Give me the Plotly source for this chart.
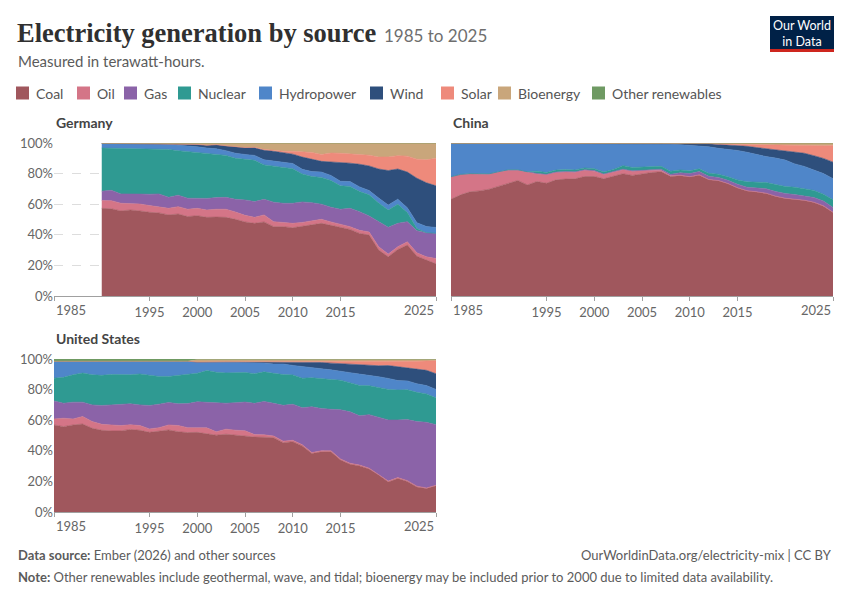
import plotly.graph_objects as go

# ---------------- DATA (shares of electricity generation, %) ----------------
sources = ["Coal", "Oil", "Gas", "Nuclear", "Hydropower", "Wind", "Solar", "Bioenergy", "Other renewables"]
colors = ["#a0575d", "#d47587", "#8b63a8", "#2f9a92", "#4f86c9", "#2e4f7c", "#ee8a7b", "#c9a67b", "#6f9a63"]
tick_years = [1985, 1995, 2000, 2005, 2010, 2015, 2025]
y_ticks = [0, 20, 40, 60, 80, 100]
y_labels = ["0%", "20%", "40%", "60%", "80%", "100%"]

germany_years = list(range(1990, 2026))
germany_coal = [57.3, 57.0, 55.6, 56.2, 55.6, 54.7, 54.3, 53.0, 53.6, 51.9, 52.5, 51.4, 51.6, 51.4, 50.1, 48.4, 47.5, 48.4,
                45.3, 45.3, 44.6, 45.7, 46.6, 47.5, 46.2, 44.9, 43.5, 40.9, 39.8, 30.0, 25.6, 30.4, 33.3, 26.0, 23.4, 21.0]
germany_oil = [5.1, 5.3, 5.0, 4.3, 4.5, 4.4, 4.0, 4.3, 4.8, 4.8, 4.8, 4.8, 5.1, 5.3, 4.8, 4.3, 3.9, 4.6,
               3.3, 2.6, 2.9, 2.4, 2.4, 2.6, 2.2, 2.1, 1.8, 2.0, 2.0, 2.2, 1.8, 1.8, 2.1, 2.2, 2.2, 3.5]
germany_gas = [6.1, 6.8, 6.1, 6.3, 6.5, 7.4, 8.4, 7.2, 7.5, 7.2, 6.6, 7.6, 7.6, 7.8, 8.3, 10.1, 10.3, 10.2,
               12.7, 12.7, 13.1, 13.4, 12.0, 9.9, 9.6, 9.7, 12.0, 12.2, 10.5, 16.2, 17.5, 15.3, 13.2, 14.5, 15.8, 16.5]
germany_nuclear = [28.2, 27.5, 29.5, 29.3, 29.4, 29.4, 29.3, 31.3, 29.1, 30.5, 29.8, 29.0, 28.0, 27.4, 26.8, 26.6, 27.0, 22.5,
                   23.6, 23.1, 22.6, 18.3, 17.1, 17.5, 17.5, 15.3, 14.3, 13.2, 13.8, 12.4, 11.3, 12.5, 6.0, 1.4, 0.0, 0.0]
germany_hydro = [3.1, 3.1, 3.4, 3.5, 3.5, 3.6, 3.2, 3.4, 3.5, 3.8, 3.8, 3.9, 3.9, 3.1, 3.3, 3.1, 3.2, 3.3,
                 3.3, 3.3, 3.4, 3.0, 3.2, 3.5, 3.3, 3.0, 3.2, 3.0, 2.8, 3.2, 3.2, 3.3, 3.0, 3.8, 4.0, 3.8]
germany_wind = [0.0, 0.05, 0.1, 0.1, 0.2, 0.3, 0.4, 0.5, 0.8, 1.0, 1.6, 1.8, 2.7, 3.1, 4.1, 4.4, 5.0, 6.3,
                6.4, 6.5, 6.1, 8.0, 8.2, 7.0, 8.8, 12.3, 12.0, 14.8, 16.1, 19.0, 22.6, 19.7, 23.4, 29.1, 28.6, 27.2]
germany_solar = [0.0, 0.0, 0.0, 0.0, 0.0, 0.0, 0.0, 0.0, 0.0, 0.0, 0.0, 0.0, 0.0, 0.1, 0.1, 0.2, 0.3, 0.5,
                 0.7, 1.1, 1.9, 3.2, 4.3, 4.5, 5.8, 6.0, 6.0, 6.1, 7.0, 7.8, 8.9, 8.7, 10.4, 12.4, 15.0, 18.0]
germany_bio = [0.2, 0.25, 0.3, 0.3, 0.3, 0.2, 0.4, 0.3, 0.7, 0.8, 0.9, 1.5, 1.1, 1.8, 2.5, 2.9, 2.8, 4.2,
               4.7, 5.4, 5.4, 6.0, 6.2, 7.5, 6.6, 6.7, 7.2, 7.8, 8.0, 9.2, 9.1, 8.3, 8.6, 10.6, 11.0, 10.0]
germany_other = [0.0] * 36

china_years = list(range(1985, 2026))
china_coal = [63.2, 66.1, 68.1, 68.7, 69.8, 71.6, 73.7, 75.5, 72.6, 74.8, 73.7, 75.9, 76.4, 76.6, 78.1, 78.1, 76.6,
              78.1, 79.9, 78.8, 79.9, 80.7, 81.2, 78.1, 78.6, 77.7, 79.0, 75.9, 75.3, 73.3, 70.8, 68.9, 68.3, 67.2,
              65.4, 63.9, 62.8, 62.4, 61.1, 58.8, 54.5]
china_oil = [14.5, 13.1, 11.6, 11.0, 9.8, 9.4, 8.5, 6.7, 8.3, 5.0, 5.5, 4.8, 4.6, 4.3, 4.1, 3.5, 2.8,
             2.8, 2.6, 2.7, 1.9, 1.5, 0.8, 0.5, 0.4, 0.3, 0.2, 0.2, 0.2, 0.2, 0.2, 0.2, 0.2, 0.2,
             0.2, 0.2, 0.2, 0.2, 0.2, 0.2, 0.2]
china_gas = [0.3, 0.3, 0.3, 0.3, 0.3, 0.3, 0.3, 0.3, 0.3, 0.3, 0.3, 0.3, 0.3, 0.3, 0.3, 0.4, 0.4,
             0.3, 0.4, 0.3, 0.5, 0.6, 0.9, 0.9, 1.5, 2.0, 2.1, 2.1, 2.0, 2.1, 2.2, 2.3, 2.7, 2.9,
             3.0, 3.1, 3.0, 2.7, 3.1, 3.1, 3.2]
china_nuclear = [0.0, 0.0, 0.0, 0.0, 0.0, 0.0, 0.0, 0.0, 0.0, 1.5, 1.2, 1.3, 1.3, 1.2, 1.2, 1.2, 1.2,
                 1.5, 2.3, 2.2, 2.1, 1.9, 1.9, 2.0, 1.9, 1.8, 1.8, 2.0, 2.1, 2.3, 2.9, 3.5, 3.8, 4.1,
                 4.6, 4.6, 4.8, 4.7, 4.6, 4.5, 5.0]
china_hydro = [21.8, 20.3, 19.8, 19.8, 19.9, 18.5, 17.3, 17.3, 18.6, 18.2, 19.1, 17.5, 17.2, 17.4, 16.1, 16.6, 18.8,
               17.1, 14.6, 15.8, 15.4, 15.0, 14.8, 17.8, 16.5, 16.8, 14.8, 17.3, 16.9, 18.1, 19.3, 19.4, 17.9, 17.0,
               17.4, 17.3, 15.2, 14.7, 13.3, 13.5, 13.8]
china_wind = [0.0, 0.0, 0.0, 0.0, 0.0, 0.0, 0.0, 0.0, 0.0, 0.0, 0.0, 0.0, 0.0, 0.0, 0.0, 0.0, 0.0,
              0.0, 0.0, 0.0, 0.0, 0.0, 0.2, 0.4, 0.7, 1.1, 1.5, 2.0, 2.6, 2.8, 3.2, 3.9, 4.7, 5.1,
              5.4, 6.1, 7.8, 8.6, 9.4, 9.9, 10.8]
china_solar = [0.0, 0.0, 0.0, 0.0, 0.0, 0.0, 0.0, 0.0, 0.0, 0.0, 0.0, 0.0, 0.0, 0.0, 0.0, 0.0, 0.0,
               0.0, 0.0, 0.0, 0.0, 0.0, 0.0, 0.0, 0.0, 0.0, 0.0, 0.1, 0.2, 0.4, 0.7, 1.1, 1.8, 2.5,
               3.0, 3.4, 3.9, 4.8, 6.3, 8.3, 10.8]
china_bio = [0.2, 0.2, 0.2, 0.2, 0.2, 0.2, 0.2, 0.2, 0.2, 0.2, 0.2, 0.2, 0.2, 0.2, 0.2, 0.2, 0.2,
             0.2, 0.2, 0.2, 0.2, 0.3, 0.2, 0.3, 0.4, 0.3, 0.6, 0.4, 0.7, 0.8, 1.0, 1.1, 1.2, 1.3,
             1.5, 1.7, 1.9, 1.9, 2.0, 1.8, 1.7]
china_other = [0.0] * 41

us_years = list(range(1985, 2026))
us_coal = [56.9, 55.8, 56.9, 57.5, 54.7, 53.4, 53.0, 53.0, 54.0, 53.4, 52.1, 53.0, 53.6, 52.5, 51.9, 51.9, 51.4,
           50.3, 51.0, 50.3, 49.9, 49.2, 48.8, 48.6, 45.5, 46.0, 43.3, 38.3, 39.4, 39.4, 33.9, 31.1, 30.2, 28.0,
           24.1, 19.7, 21.9, 20.0, 16.4, 15.3, 17.1]
us_oil = [3.9, 5.5, 3.9, 4.9, 4.4, 3.9, 3.9, 3.5, 3.0, 3.1, 2.2, 2.1, 3.3, 4.0, 3.2, 2.8, 3.7,
          2.2, 3.3, 3.3, 3.1, 1.6, 1.6, 1.1, 1.0, 0.9, 0.7, 0.6, 0.7, 0.7, 0.7, 0.6, 0.5, 0.6,
          0.5, 0.5, 0.6, 0.5, 0.5, 0.4, 0.4]
us_gas = [11.8, 9.8, 11.0, 9.4, 10.9, 12.3, 13.1, 14.0, 13.7, 13.5, 15.3, 15.4, 14.7, 14.2, 15.8, 17.1, 16.7,
          18.6, 17.0, 18.0, 18.8, 20.5, 21.8, 21.4, 23.5, 23.6, 24.3, 30.0, 27.7, 27.1, 32.1, 33.5, 32.3, 34.9,
          37.1, 40.0, 37.7, 39.9, 42.2, 42.9, 39.6]
us_nuclear = [14.9, 16.9, 17.9, 19.0, 19.7, 19.7, 19.9, 19.2, 19.0, 20.2, 19.7, 18.1, 17.0, 18.6, 19.3, 18.6, 20.8,
              20.4, 19.9, 19.8, 19.3, 19.5, 19.3, 19.6, 20.2, 19.2, 19.3, 19.0, 19.4, 19.5, 19.3, 19.0, 19.9, 18.9,
              19.7, 20.0, 19.6, 19.5, 19.1, 18.6, 17.5]
us_hydro = [11.0, 10.5, 8.8, 7.6, 8.7, 8.9, 8.4, 8.5, 8.6, 8.0, 9.2, 9.8, 9.8, 9.2, 8.3, 7.2, 5.6,
            6.6, 7.0, 6.6, 6.6, 7.1, 5.8, 6.1, 6.9, 6.2, 7.8, 6.7, 6.6, 6.3, 6.0, 6.5, 7.4, 6.9,
            6.8, 7.2, 6.2, 5.8, 5.6, 5.4, 5.5]
us_wind = [0.0, 0.0, 0.0, 0.0, 0.1, 0.1, 0.1, 0.1, 0.1, 0.1, 0.1, 0.1, 0.1, 0.1, 0.1, 0.1, 0.2,
           0.3, 0.3, 0.4, 0.4, 0.7, 0.8, 1.4, 1.4, 2.3, 2.9, 3.5, 4.1, 4.4, 4.7, 5.6, 6.3, 6.5,
           7.2, 8.4, 9.0, 8.2, 9.7, 10.0, 10.3]
us_solar = [0.0, 0.0, 0.0, 0.0, 0.0, 0.0, 0.0, 0.0, 0.0, 0.0, 0.0, 0.0, 0.0, 0.0, 0.0, 0.0, 0.0,
            0.0, 0.0, 0.0, 0.0, 0.0, 0.0, 0.1, 0.1, 0.1, 0.1, 0.3, 0.5, 0.9, 1.3, 1.5, 1.9, 2.3,
            2.7, 2.7, 3.5, 4.6, 5.0, 6.1, 8.5]
us_bio = [0.0, 0.0, 0.0, 0.0, 0.0, 0.0, 0.0, 0.0, 0.0, 0.0, 0.0, 0.0, 0.0, 0.0, 0.0, 1.6, 1.4,
          1.4, 1.4, 1.4, 1.4, 1.4, 1.4, 1.4, 1.4, 1.4, 1.4, 1.4, 1.4, 1.4, 1.4, 1.4, 1.3, 1.3,
          1.3, 1.2, 1.2, 1.1, 1.1, 0.9, 0.8]
us_other = [1.5, 1.5, 1.5, 1.6, 1.5, 1.7, 1.6, 1.7, 1.6, 1.7, 1.4, 1.5, 1.5, 1.4, 1.4, 0.4, 0.4,
            0.4, 0.4, 0.4, 0.4, 0.4, 0.4, 0.4, 0.4, 0.4, 0.4, 0.4, 0.4, 0.4, 0.4, 0.4, 0.4, 0.4,
            0.4, 0.4, 0.4, 0.4, 0.4, 0.4, 0.3]

countries = [
    ("Germany", germany_years, [germany_coal, germany_oil, germany_gas, germany_nuclear, germany_hydro,
                                germany_wind, germany_solar, germany_bio, germany_other], "x", "y"),
    ("China", china_years, [china_coal, china_oil, china_gas, china_nuclear, china_hydro,
                            china_wind, china_solar, china_bio, china_other], "x2", "y2"),
    ("United States", us_years, [us_coal, us_oil, us_gas, us_nuclear, us_hydro,
                                 us_wind, us_solar, us_bio, us_other], "x3", "y3"),
]

# ---------------- FIGURE ----------------
W, H = 850, 600
def px(x):
    return x / W
def py(y):
    return 1 - y / H

FONT = "Lato, 'Noto Sans', sans-serif"
TICK_FONT = dict(family=FONT, size=13, color="#666666")
fig = go.Figure()

for name, years, series, xa, ya in countries:
    for i, (src, vals) in enumerate(zip(sources, series)):
        kw = dict(groupnorm="percent") if i == 0 else {}
        fig.add_trace(go.Scatter(
            x=years, y=vals, name=src, stackgroup=name, mode="lines",
            line=dict(width=0.6, color=colors[i]), fillcolor=colors[i],
            showlegend=False, xaxis=xa, yaxis=ya, hoverinfo="skip", **kw))

# interior tick labels from the axis; edge labels (1985/2025) placed inward as OWID does
inner_text = [("" if (y == tick_years[0] or y == tick_years[-1]) else str(y)) for y in tick_years]
xcommon = dict(range=[1985, 2025], tickmode="array", tickvals=tick_years, ticktext=inner_text,
               ticks="outside", ticklen=4, tickcolor="#a0a0a0", showline=True, linecolor="#a0a0a0",
               linewidth=1, showgrid=False, zeroline=False, tickfont=TICK_FONT,
               fixedrange=True, automargin=False)
ycommon = dict(range=[0, 100], tickmode="array", tickvals=y_ticks, ticktext=y_labels,
               showgrid=True, gridcolor="#dddddd", griddash="dash", gridwidth=1,
               showline=False, zeroline=False, ticks="", tickfont=TICK_FONT,
               fixedrange=True, automargin=False)

top_row = [py(296), py(143)]
bot_row = [py(512), py(359)]
fig.update_layout(
    width=W, height=H, margin=dict(l=0, r=0, t=0, b=0, autoexpand=False),
    paper_bgcolor="white", plot_bgcolor="white", showlegend=False,
    xaxis=dict(domain=[px(54), px(436)], anchor="y", **xcommon),
    yaxis=dict(domain=top_row, anchor="x", **ycommon),
    xaxis2=dict(domain=[px(451), px(833)], anchor="y2", **xcommon),
    yaxis2=dict(domain=top_row, anchor="x2", **{**ycommon, "showticklabels": False}),
    xaxis3=dict(domain=[px(54), px(436)], anchor="y3", **xcommon),
    yaxis3=dict(domain=bot_row, anchor="x3", **ycommon),
)

ann = []
shapes = []
def text(x, y, s, size, color, anchor="left", family=FONT, yanchor="middle"):
    ann.append(dict(x=px(x), y=py(y), xref="paper", yref="paper", text=s, showarrow=False,
                    xanchor=anchor, yanchor=yanchor, align=anchor,
                    font=dict(family=family, size=size, color=color)))

# Edge tick labels (data-positioned on the x axes)
for xa, ybase in (("x", 296), ("x2", 296), ("x3", 512)):
    for yr, anc in ((tick_years[0], "left"), (tick_years[-1], "right")):
        ann.append(dict(x=yr, y=py(ybase + 14), xref=xa, yref="paper", text=str(yr), showarrow=False,
                        xanchor=anc, yanchor="middle", font=TICK_FONT))

# Title and subtitle
text(15, 33, "<b>Electricity generation by source</b>", 26.5, "#303030",
     family="'Liberation Serif', 'DejaVu Serif', serif")
text(382, 35, "1985 to 2025", 17, "#6e6e6e")
text(16, 61, "Measured in terawatt-hours.", 15, "#5b5b5b")

# Legend
legend_x = [16, 77, 124, 178, 259, 370, 441, 498, 592]
for lx, src, col in zip(legend_x, sources, colors):
    shapes.append(dict(type="rect", xref="paper", yref="paper", x0=px(lx), x1=px(lx + 13),
                       y0=py(99.5), y1=py(86.5), fillcolor=col, line=dict(width=0)))
    text(lx + 18, 93, src, 14, "#555555")

# Facet titles
text(54, 122, "<b>Germany</b>", 14, "#444444")
text(451, 122, "<b>China</b>", 14, "#444444")
text(54, 338, "<b>United States</b>", 14, "#444444")

# Footer
text(16, 555, "<b>Data source:</b> Ember (2026) and other sources", 13, "#5b5b5b")
text(834, 555, "OurWorldinData.org/electricity-mix | CC BY", 13, "#5b5b5b", anchor="right")
text(16, 577, "<b>Note:</b> Other renewables include geothermal, wave, and tidal; bioenergy may be included prior to 2000 due to limited data availability.",
     13, "#5b5b5b")

# OWID logo
shapes.append(dict(type="rect", xref="paper", yref="paper", x0=px(770), x1=px(834),
                   y0=py(49), y1=py(16), fillcolor="#002147", line=dict(width=0)))
shapes.append(dict(type="rect", xref="paper", yref="paper", x0=px(770), x1=px(834),
                   y0=py(52), y1=py(49), fillcolor="#ce261e", line=dict(width=0)))
ann.append(dict(x=px(802), y=py(33), xref="paper", yref="paper", text="Our World<br>in Data", showarrow=False,
                xanchor="center", yanchor="middle", align="center",
                font=dict(family=FONT, size=12.5, color="white")))

fig.update_layout(annotations=ann, shapes=shapes)
fig.write_html("out.html", config={"displayModeBar": False},
               post_script="document.body.style.margin='0px';document.body.style.padding='0px';document.body.style.overflow='hidden';")
